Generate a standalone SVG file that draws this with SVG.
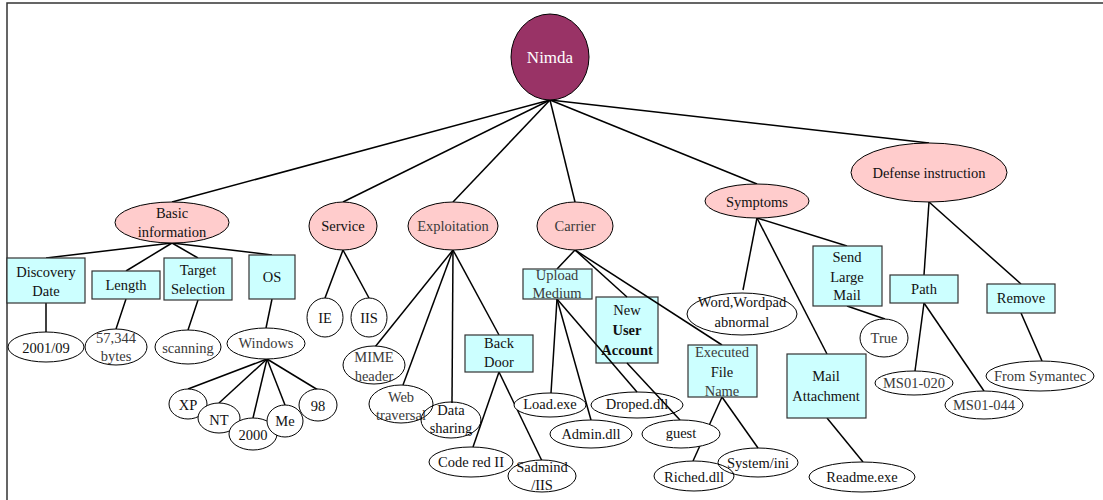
<svg xmlns="http://www.w3.org/2000/svg" width="1103" height="500" viewBox="0 0 1103 500">
  <style>
    text { font-family: "Liberation Serif", "Times New Roman", serif; font-size: 14.5px; text-anchor: middle; fill: #111; }
    .g { fill: #3a3a3a; }
    .b { font-weight: bold; }
    .cat { fill: #ffcccc; stroke: #000; stroke-width: 1; }
    .box { fill: #ccffff; stroke: #333; stroke-width: 1.2; }
    .leaf { fill: #fff; stroke: #000; stroke-width: 1; }
    .open { fill: none; }
    .root { fill: #993366; stroke: #000; stroke-width: 1; }
    .root-t { fill: #fff; font-size: 17px; }
    #connectors line { stroke: #000; stroke-width: 1.5; }
    .frame { stroke: #333; stroke-width: 1.5; fill: none; }
  </style>

  <!-- outer frame: top and left edges -->
  <path class="frame" d="M7,500 V3 H1103"/>

  <!-- box that the Carrier-level connectors cross over -->
  <g id="new-user-account">
    <rect class="box" x="596" y="297" width="62" height="66"/>
    <text x="627" y="315">New</text>
    <text class="b" x="627" y="335">User</text>
    <text class="b" x="627" y="355">Account</text>
  </g>

  <g id="connectors">
    <!-- root to categories -->
    <line x1="550" y1="100" x2="172" y2="202"/>
    <line x1="550" y1="100" x2="343" y2="202"/>
    <line x1="550" y1="100" x2="453" y2="202"/>
    <line x1="550" y1="100" x2="575" y2="202"/>
    <line x1="550" y1="100" x2="757" y2="184"/>
    <line x1="550" y1="100" x2="929" y2="143"/>
    <!-- Basic information -->
    <line x1="172" y1="243" x2="46" y2="258"/>
    <line x1="172" y1="243" x2="126" y2="271"/>
    <line x1="172" y1="243" x2="198" y2="258"/>
    <line x1="172" y1="243" x2="272" y2="255"/>
    <line x1="46" y1="303" x2="46" y2="332"/>
    <line x1="126" y1="299" x2="116" y2="329"/>
    <line x1="198" y1="300" x2="188" y2="330"/>
    <line x1="272" y1="299" x2="266" y2="328"/>
    <line x1="267" y1="359" x2="188" y2="389"/>
    <line x1="267" y1="359" x2="219" y2="403"/>
    <line x1="267" y1="359" x2="253" y2="418"/>
    <line x1="267" y1="359" x2="285" y2="405"/>
    <line x1="267" y1="359" x2="318" y2="390"/>
    <!-- Service -->
    <line x1="343" y1="250" x2="325" y2="298"/>
    <line x1="343" y1="250" x2="369" y2="298"/>
    <!-- Exploitation -->
    <line x1="453" y1="250" x2="375" y2="347"/>
    <line x1="453" y1="250" x2="403" y2="385"/>
    <line x1="453" y1="250" x2="452" y2="403"/>
    <line x1="453" y1="250" x2="499" y2="335"/>
    <line x1="499" y1="372" x2="473" y2="447"/>
    <line x1="499" y1="372" x2="543" y2="463"/>
    <!-- Carrier -->
    <line x1="575" y1="250" x2="557" y2="269"/>
    <line x1="575" y1="250" x2="627" y2="297"/>
    <line x1="575" y1="250" x2="722" y2="345"/>
    <line x1="557" y1="299" x2="551" y2="393"/>
    <line x1="557" y1="299" x2="591" y2="420"/>
    <line x1="557" y1="299" x2="637" y2="392"/>
    <line x1="627" y1="363" x2="680" y2="420"/>
    <line x1="722" y1="397" x2="693" y2="461"/>
    <line x1="722" y1="397" x2="758" y2="448"/>
    <!-- Symptoms -->
    <line x1="757" y1="218" x2="743" y2="290"/>
    <line x1="757" y1="218" x2="847" y2="246"/>
    <line x1="757" y1="218" x2="827" y2="354"/>
    <line x1="847" y1="306" x2="885" y2="319"/>
    <line x1="827" y1="418" x2="863" y2="462"/>
    <!-- Defense instruction -->
    <line x1="929" y1="202" x2="924" y2="275"/>
    <line x1="929" y1="202" x2="1021" y2="284"/>
    <line x1="924" y1="303" x2="915" y2="371"/>
    <line x1="924" y1="303" x2="984" y2="391"/>
    <line x1="1021" y1="313" x2="1042" y2="361"/>
  </g>

  <!-- root -->
  <g id="nimda">
    <ellipse class="root" cx="550" cy="57" rx="39" ry="43"/>
    <text class="root-t" x="550" y="63">Nimda</text>
  </g>

  <!-- categories -->
  <g id="basic-information">
    <ellipse class="cat" cx="172" cy="222.5" rx="57" ry="20.5"/>
    <text x="172" y="218">Basic</text>
    <text x="172" y="237">information</text>
  </g>
  <g id="service">
    <ellipse class="cat" cx="343" cy="226" rx="34" ry="24"/>
    <text x="343" y="231">Service</text>
  </g>
  <g id="exploitation">
    <ellipse class="cat" cx="453" cy="226" rx="45" ry="24"/>
    <text class="g" x="453" y="231">Exploitation</text>
  </g>
  <g id="carrier">
    <ellipse class="cat" cx="575" cy="226" rx="38" ry="24"/>
    <text class="g" x="575" y="231">Carrier</text>
  </g>
  <g id="symptoms">
    <ellipse class="cat" cx="757" cy="201" rx="52" ry="17"/>
    <text x="757" y="207">Symptoms</text>
  </g>
  <g id="defense-instruction">
    <ellipse class="cat" cx="929" cy="172.5" rx="78" ry="29.5"/>
    <text x="929" y="178">Defense instruction</text>
  </g>

  <!-- Basic information branch -->
  <g id="discovery-date">
    <rect class="box" x="7" y="258" width="78" height="45"/>
    <text x="46" y="277">Discovery</text>
    <text x="46" y="296">Date</text>
  </g>
  <g id="length">
    <rect class="box" x="92" y="271" width="68" height="28"/>
    <text x="126" y="290">Length</text>
  </g>
  <g id="target-selection">
    <rect class="box" x="164" y="258" width="68" height="42"/>
    <text x="198" y="275">Target</text>
    <text x="198" y="294">Selection</text>
  </g>
  <g id="os">
    <rect class="box" x="249" y="255" width="46" height="44"/>
    <text x="272" y="282">OS</text>
  </g>
  <g id="date-2001-09">
    <ellipse class="leaf" cx="46" cy="347" rx="38" ry="15"/>
    <text x="46" y="353">2001/09</text>
  </g>
  <g id="bytes">
    <ellipse class="leaf" cx="116" cy="347" rx="31" ry="18"/>
    <text class="g" x="116" y="343">57,344</text>
    <text class="g" x="116" y="361">bytes</text>
  </g>
  <g id="scanning">
    <ellipse class="leaf" cx="188" cy="347" rx="33" ry="17"/>
    <text class="g" x="188" y="353">scanning</text>
  </g>
  <g id="windows">
    <ellipse class="leaf" cx="266" cy="343.5" rx="39" ry="15.5"/>
    <text class="g" x="266" y="348">Windows</text>
  </g>
  <g id="xp">
    <ellipse class="leaf" cx="188" cy="404" rx="19" ry="15"/>
    <text x="188" y="410">XP</text>
  </g>
  <g id="nt">
    <ellipse class="leaf" cx="219" cy="418" rx="21" ry="15"/>
    <text x="219" y="425">NT</text>
  </g>
  <g id="w2000">
    <ellipse class="leaf" cx="253" cy="434" rx="24" ry="16"/>
    <text x="253" y="440">2000</text>
  </g>
  <g id="me">
    <ellipse class="leaf" cx="285" cy="421" rx="18" ry="16"/>
    <text x="285" y="426">Me</text>
  </g>
  <g id="w98">
    <ellipse class="leaf" cx="318" cy="405" rx="19" ry="16"/>
    <text x="318" y="411">98</text>
  </g>

  <!-- Service branch -->
  <g id="ie">
    <ellipse class="leaf" cx="325" cy="317.5" rx="18" ry="19.5"/>
    <text x="325" y="323">IE</text>
  </g>
  <g id="iis">
    <ellipse class="leaf" cx="369" cy="317.5" rx="18" ry="19.5"/>
    <text x="369" y="323">IIS</text>
  </g>

  <!-- Exploitation branch -->
  <g id="mime-header">
    <ellipse class="leaf" cx="374" cy="365" rx="31" ry="19"/>
    <text class="g" x="374" y="362">MIME</text>
    <text class="g" x="374" y="381">header</text>
  </g>
  <g id="web-traversal">
    <ellipse class="leaf" cx="401" cy="404" rx="32" ry="19"/>
    <text class="g" x="401" y="402">Web</text>
    <text class="g" x="401" y="420">traversal</text>
  </g>
  <g id="data-sharing">
    <ellipse class="leaf open" cx="451" cy="420" rx="30" ry="18"/>
    <text x="451" y="415">Data</text>
    <text x="451" y="433">sharing</text>
  </g>
  <g id="back-door">
    <rect class="box" x="465" y="335" width="68" height="37"/>
    <text x="499" y="348">Back</text>
    <text x="499" y="367">Door</text>
  </g>
  <g id="code-red-ii">
    <ellipse class="leaf" cx="471" cy="462" rx="42" ry="15"/>
    <text x="471" y="467">Code red II</text>
  </g>
  <g id="sadmind-iis">
    <ellipse class="leaf" cx="542" cy="476" rx="34" ry="16"/>
    <text x="542" y="472">Sadmind</text>
    <text x="542" y="490">/IIS</text>
  </g>

  <!-- Carrier branch -->
  <g id="upload-medium">
    <rect class="box" x="523" y="269" width="69" height="30"/>
    <text class="g" x="557" y="280">Upload</text>
    <text class="g" x="557" y="298">Medium</text>
  </g>
  <g id="executed-file-name">
    <rect class="box" x="688" y="345" width="69" height="52"/>
    <text class="g" x="722" y="357">Executed</text>
    <text x="722" y="377">File</text>
    <text class="g" x="722" y="396">Name</text>
  </g>
  <g id="load-exe">
    <ellipse class="leaf" cx="550" cy="405" rx="36" ry="12"/>
    <text x="550" y="409">Load.exe</text>
  </g>
  <g id="droped-dll">
    <ellipse class="leaf open" cx="637" cy="405" rx="46" ry="13"/>
    <text x="637" y="409">Droped.dll</text>
  </g>
  <g id="admin-dll">
    <ellipse class="leaf" cx="591" cy="434" rx="41" ry="14"/>
    <text x="591" y="439">Admin.dll</text>
  </g>
  <g id="guest">
    <ellipse class="leaf" cx="681" cy="434" rx="39" ry="14"/>
    <text x="681" y="438">guest</text>
  </g>
  <g id="riched-dll">
    <ellipse class="leaf" cx="694" cy="476" rx="40" ry="15"/>
    <text x="694" y="482">Riched.dll</text>
  </g>
  <g id="system-ini">
    <ellipse class="leaf open" cx="758" cy="462.5" rx="40" ry="14.5"/>
    <text x="758" y="468">System/ini</text>
  </g>

  <!-- Symptoms branch -->
  <g id="word-wordpad">
    <ellipse class="leaf" cx="742" cy="314" rx="55" ry="21"/>
    <text x="742" y="307">Word,Wordpad</text>
    <text x="742" y="327">abnormal</text>
  </g>
  <g id="send-large-mail">
    <rect class="box" x="813" y="246" width="69" height="60"/>
    <text x="847" y="262">Send</text>
    <text x="847" y="282">Large</text>
    <text x="847" y="300">Mail</text>
  </g>
  <g id="true">
    <ellipse class="leaf" cx="884" cy="338" rx="24" ry="19"/>
    <text class="g" x="884" y="343">True</text>
  </g>
  <g id="mail-attachment">
    <rect class="box" x="787" y="354" width="79" height="64"/>
    <text x="826" y="381">Mail</text>
    <text x="826" y="401">Attachment</text>
  </g>
  <g id="readme-exe">
    <ellipse class="leaf" cx="862" cy="477" rx="53" ry="15"/>
    <text x="862" y="482">Readme.exe</text>
  </g>

  <!-- Defense instruction branch -->
  <g id="path">
    <rect class="box" x="890" y="275" width="68" height="28"/>
    <text x="924" y="294">Path</text>
  </g>
  <g id="remove">
    <rect class="box" x="987" y="284" width="68" height="29"/>
    <text x="1021" y="303">Remove</text>
  </g>
  <g id="ms01-020">
    <ellipse class="leaf" cx="914" cy="383" rx="39" ry="12"/>
    <text class="g" x="914" y="388">MS01-020</text>
  </g>
  <g id="ms01-044">
    <ellipse class="leaf" cx="984" cy="405" rx="39" ry="14"/>
    <text class="g" x="984" y="410">MS01-044</text>
  </g>
  <g id="from-symantec">
    <ellipse class="leaf" cx="1040" cy="376" rx="54" ry="15"/>
    <text class="g" x="1040" y="381">From Symantec</text>
  </g>
</svg>
